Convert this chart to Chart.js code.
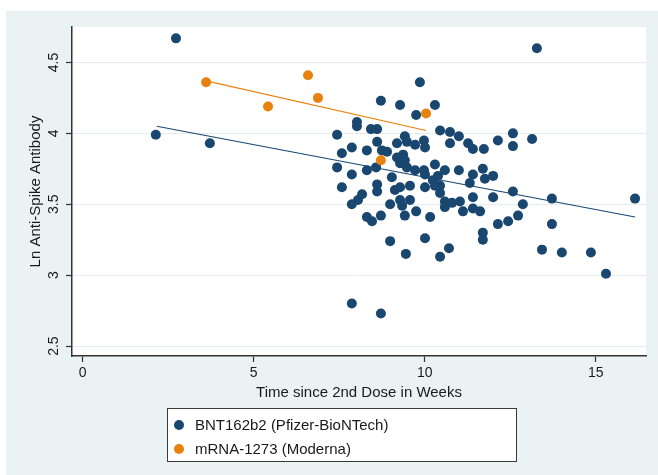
<!DOCTYPE html>
<html>
<head>
<meta charset="utf-8">
<script src="https://cdn.jsdelivr.net/npm/chart.js@4.4.1/dist/chart.umd.min.js"></script>
<style>
  body { margin: 0; background: #fff; font-family: "Liberation Sans", Arial, sans-serif; }
  #panel { position: absolute; left: 6px; top: 11px; width: 652px; height: 464px; background: #eaf2f3; }
  #legend { position: absolute; left: 167px; top: 408px; width: 350px; height: 54px; box-sizing: border-box;
            border: 1.5px solid #3a3a3a; background: #fff; padding-top: 7px; }
  .item { height: 24px; line-height: 18px; font-size: 15px; color: #1a1a1a; position: relative; padding-left: 27px; }
  .dot { position: absolute; left: 6px; top: 4px; width: 10px; height: 10px; border-radius: 50%; }
</style>
</head>
<body>
<div id="panel"><canvas id="chart" width="652" height="464"></canvas></div>
<div id="legend"></div>
<script>
// Time since 2nd dose (weeks) and ln anti-spike antibody
const pfizerWeeks = [2.73,2.14,3.72,13.28,16.15,9.86,8.72,9.28,10.30,9.75,
  8.02,8.02,8.43,8.61,7.44,8.61,7.87,7.58,8.31,8.75,
  8.90,9.19,9.42,9.48,9.72,9.98,10.01,9.19,9.37,9.42,
  9.28,7.44,8.31,8.58,7.87,9.04,9.48,9.72,9.98,10.01,
  10.30,10.45,10.74,11.00,10.74,11.27,11.41,11.73,12.14,12.58,
  12.58,13.14,10.59,11.00,10.24,10.45,11.41,11.70,11.76,12.00,
  11.32,7.58,8.61,8.61,8.17,8.05,7.87,9.13,9.28,9.57,
  9.28,9.57,8.99,9.34,10.01,10.30,10.45,10.59,10.59,10.80,
  11.03,10.16,11.12,11.41,11.41,11.62,12.00,12.58,12.87,13.72,
  13.72,8.31,8.46,8.72,9.42,9.75,12.14,12.44,12.73,11.70,
  11.70,10.01,8.99,9.45,10.45,10.71,13.43,14.01,14.86,15.30,
  7.87,8.72,10.39];
const pfizerLn = [4.67,3.99,3.93,4.60,3.54,4.36,4.23,4.20,4.20,4.13,
  4.08,4.05,4.03,4.03,3.99,3.94,3.90,3.86,3.88,3.88,
  3.87,3.93,3.98,3.94,3.92,3.95,3.90,3.83,3.85,3.81,
  3.79,3.76,3.74,3.76,3.71,3.69,3.76,3.74,3.74,3.71,
  3.78,4.02,4.01,3.98,3.93,3.93,3.89,3.89,3.95,4.00,
  3.91,3.96,3.74,3.74,3.67,3.63,3.71,3.75,3.68,3.70,
  3.65,3.62,3.64,3.59,3.57,3.53,3.50,3.60,3.62,3.63,
  3.53,3.53,3.50,3.49,3.62,3.63,3.58,3.52,3.48,3.51,
  3.52,3.41,3.45,3.55,3.47,3.45,3.55,3.59,3.50,3.54,
  3.36,3.41,3.38,3.42,3.42,3.45,3.36,3.38,3.42,3.30,
  3.25,3.26,3.24,3.15,3.13,3.19,3.18,3.16,3.16,3.01,
  2.80,2.73,3.70];
const modernaWeeks = [3.61,5.42,6.59,6.88,10.04,8.72];
const modernaLn = [4.36,4.19,4.41,4.25,4.14,3.81];

// fitted lines (end points)
const pfizerFitWeeks = [2.17,16.15];
const pfizerFitLn = [4.05,3.41];
const modernaFitWeeks = [3.61,10.04];
const modernaFitLn = [4.37,4.02];

const xTicks = [0,5,10,15];
const yTicks = [2.5,3,3.5,4,4.5];
const seriesNames = ['BNT162b2 (Pfizer-BioNTech)', 'mRNA-1273 (Moderna)'];
const navy = '#1a476f';
const orange = '#e8820e';
const ink = '#1a1a1a';

function toPoints(xs, ys) {
  return xs.map((x, i) => ({ x: x, y: ys[i] }));
}

const plotBg = {
  id: 'plotBg',
  beforeDraw(chart) {
    const a = chart.chartArea;
    chart.ctx.save();
    chart.ctx.fillStyle = '#fff';
    chart.ctx.fillRect(a.left, a.top, a.right - a.left, a.bottom - a.top);
    chart.ctx.restore();
  }
};

const tickFont = { family: '"Liberation Sans", Arial, sans-serif', size: 14 };
const titleFont = { family: '"Liberation Sans", Arial, sans-serif', size: 15 };

new Chart(document.getElementById('chart'), {
  type: 'scatter',
  data: {
    datasets: [
      { label: seriesNames[0], data: toPoints(pfizerWeeks, pfizerLn), backgroundColor: navy,
        borderWidth: 0, pointRadius: 5, order: 2 },
      { label: seriesNames[1], data: toPoints(modernaWeeks, modernaLn), backgroundColor: orange,
        borderWidth: 0, pointRadius: 5, order: 1 },
      { type: 'line', data: toPoints(pfizerFitWeeks, pfizerFitLn), borderColor: navy,
        borderWidth: 1.2, pointRadius: 0, fill: false, order: 0 },
      { type: 'line', data: toPoints(modernaFitWeeks, modernaFitLn), borderColor: orange,
        borderWidth: 1.2, pointRadius: 0, fill: false, order: 0 }
    ]
  },
  options: {
    responsive: false,
    animation: false,
    devicePixelRatio: 1,
    layout: { padding: { left: 0, top: 16, right: 12, bottom: 69 } },
    plugins: { legend: { display: false }, tooltip: { enabled: false } },
    scales: {
      x: {
        type: 'linear', min: -0.31, max: 16.47,
        afterBuildTicks: s => { s.ticks = xTicks.map(v => ({ value: v })); },
        afterFit: s => { s.height = 50; },
        grid: { drawOnChartArea: false, tickLength: 6, tickColor: '#333', tickWidth: 1.2 },
        border: { color: '#333', width: 1.5 },
        ticks: { font: tickFont, color: ink, padding: 3, maxRotation: 0, callback: v => String(v) },
        title: { display: true, text: 'Time since 2nd Dose in Weeks', font: titleFont, color: ink,
                 padding: { top: 0, bottom: 4 } }
      },
      y: {
        type: 'linear', min: 2.43, max: 4.75,
        afterBuildTicks: s => { s.ticks = yTicks.map(v => ({ value: v })); },
        afterFit: s => { s.width = 66; },
        grid: { color: '#e3edf0', lineWidth: 1, tickLength: 6, tickColor: '#333', tickWidth: 1.2 },
        border: { color: '#333', width: 1.5 },
        ticks: { font: tickFont, color: ink, padding: 2, minRotation: 90, maxRotation: 90,
                 crossAlign: 'center', callback: v => String(v) },
        title: { display: true, text: 'Ln Anti-Spike Antibody', font: titleFont, color: ink,
                 padding: { top: 21, bottom: 0 } }
      }
    }
  },
  plugins: [plotBg]
});

const legend = document.getElementById('legend');
[navy, orange].forEach((c, i) => {
  const row = document.createElement('div');
  row.className = 'item';
  row.innerHTML = '<span class="dot" style="background:' + c + '"></span>' + seriesNames[i];
  legend.appendChild(row);
});
</script>
</body>
</html>
